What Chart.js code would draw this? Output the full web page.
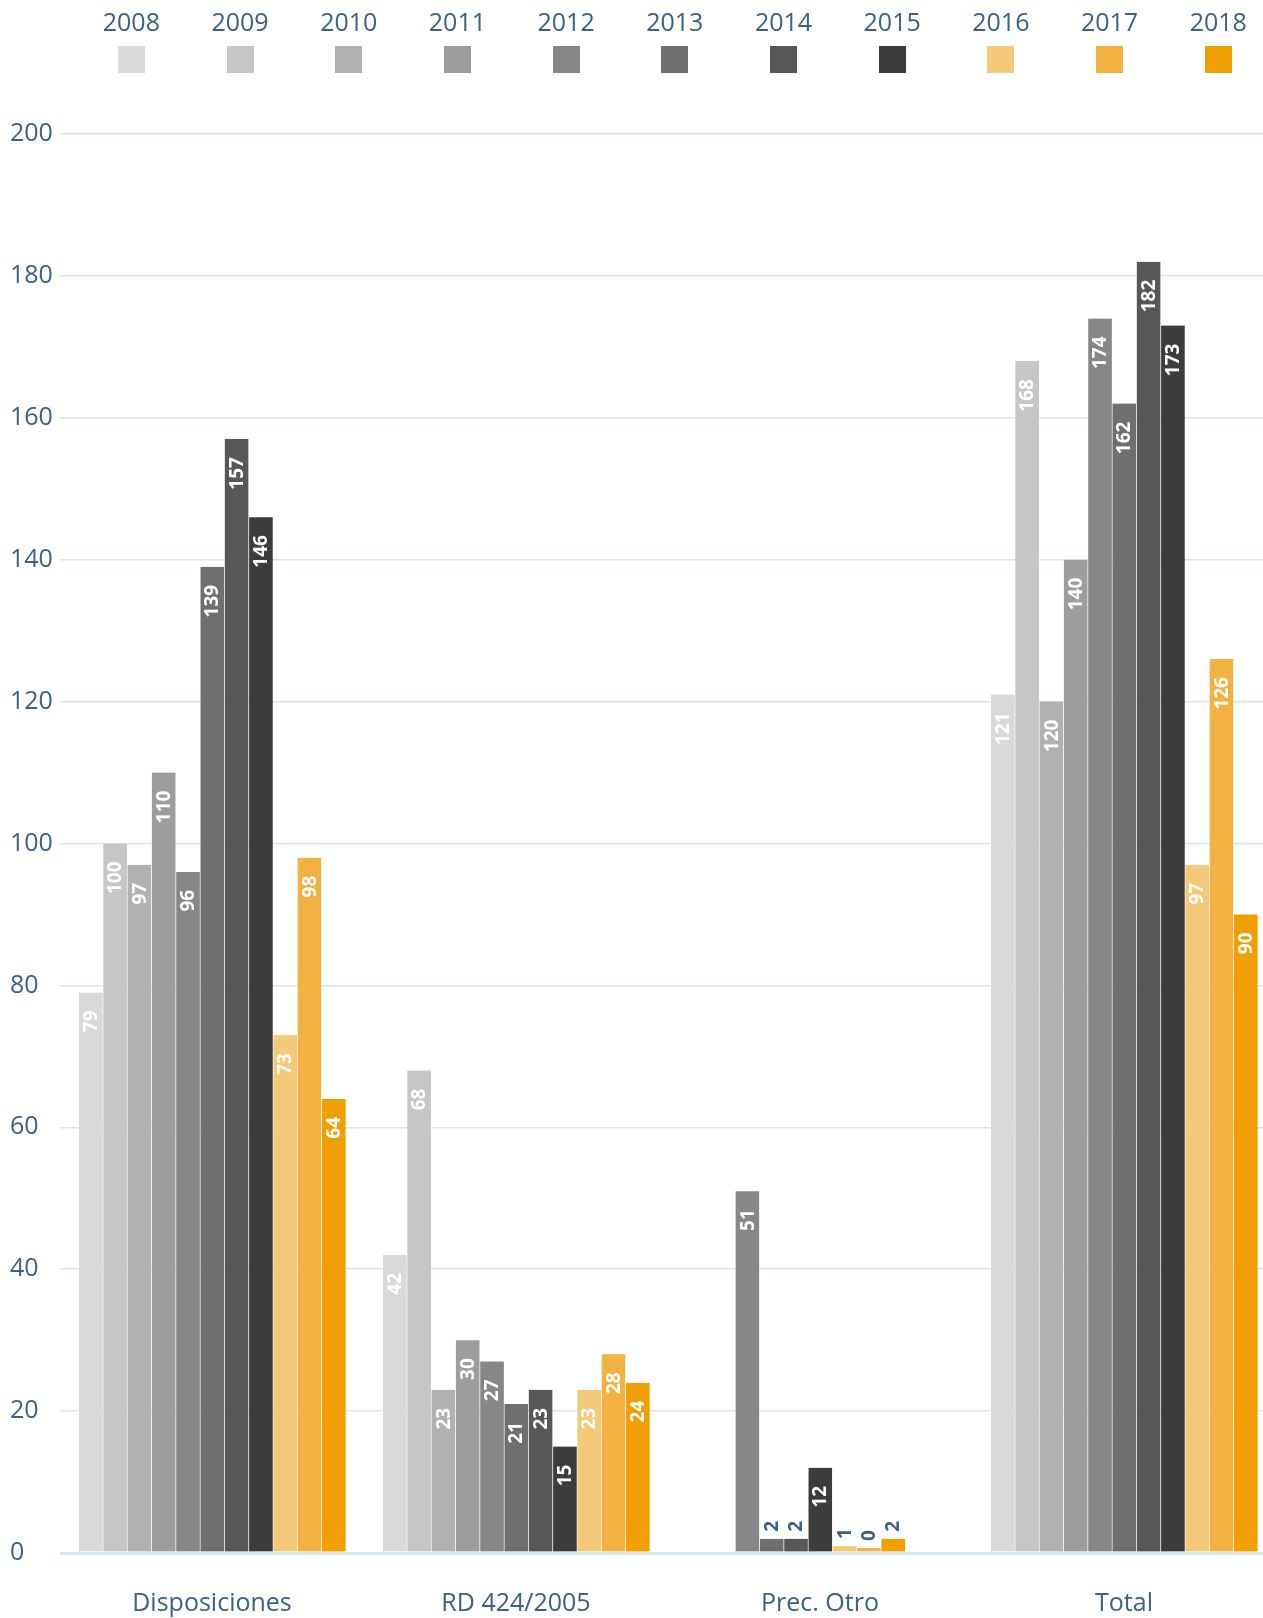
<!DOCTYPE html>
<html lang="es">
<head>
<meta charset="utf-8">
<title>Disposiciones por año</title>
<script src="https://cdn.jsdelivr.net/npm/chart.js@4/dist/chart.umd.min.js"></script>
<style>
  html, body { margin: 0; padding: 0; background: #fff; overflow: hidden; }
  #wrap { position: relative; width: 1263px; height: 1618px; overflow: hidden; }
  #myChart { position: absolute; left: 0; top: 0; }
  #legend { position: absolute; top: 0; left: 77px; display: flex; }
  .item { width: 108.7px; text-align: center; font: 25px 'Open Sans', sans-serif; color: #3b6183; }
  .item span { display: block; line-height: 28px; margin-top: 7px; }
  .item i { display: block; width: 27px; height: 27px; margin: 11px auto 0; }
</style>
</head>
<body>
<div id="wrap">
  <!-- the last group runs up to the right edge, so the canvas is a bit wider than the page -->
  <canvas id="myChart" width="1276" height="1618"></canvas>
  <div id="legend"></div>
</div>
<script>
// Groups along the x axis and one series per year
const categories = ['Disposiciones', 'RD 424/2005', 'Prec. Otro', 'Total'];
const years = ['2008', '2009', '2010', '2011', '2012', '2013', '2014', '2015', '2016', '2017', '2018'];

// Values per group, one entry per year (null = no bar)
const disposiciones = [79, 100, 97, 110, 96, 139, 157, 146, 73, 98, 64];
const rd424 = [42, 68, 23, 30, 27, 21, 23, 15, 23, 28, 24];
const precOtro = [null, null, null, null, 51, 2, 2, 12, 1, 0, 2];
const total = [121, 168, 120, 140, 174, 162, 182, 173, 97, 126, 90];

// y axis ticks
const yMax = 200;
const yStep = 20;

const yearColors = ['#d9d9d9', '#c6c6c6', '#b1b1b1', '#9d9d9c', '#878787', '#6f6f6e',
                    '#575756', '#3c3c3b', '#f4c978', '#f3b142', '#efa000'];
const textColor = '#3b6183';
const gridColor = '#d4e6ef';
const font = "'Open Sans', sans-serif";

// Legend: year on top, colour square below
const legend = document.getElementById('legend');
years.forEach((year, i) => {
  const item = document.createElement('div');
  item.className = 'item';
  item.innerHTML = `<span>${year}</span><i style="background:${yearColors[i]}"></i>`;
  legend.appendChild(item);
});

// Rotated value labels: inside the top of tall bars, above short ones
const barValueLabels = {
  id: 'barValueLabels',
  afterDatasetsDraw(chart) {
    const ctx = chart.ctx;
    ctx.save();
    ctx.font = `bold 19px ${font}`;
    ctx.textBaseline = 'middle';
    chart.data.datasets.forEach((ds, i) => {
      chart.getDatasetMeta(i).data.forEach((bar, j) => {
        const v = ds.data[j];
        if (v === null || v === undefined) return;
        const h = bar.base - bar.y;
        ctx.save();
        ctx.translate(bar.x, bar.y);
        ctx.rotate(-Math.PI / 2);
        if (h > 50) {
          ctx.fillStyle = '#fff';
          ctx.textAlign = 'right';
          ctx.fillText(v, -18, 1);
        } else {
          ctx.fillStyle = textColor;
          ctx.textAlign = 'left';
          ctx.fillText(v, 7, 1);
        }
        ctx.restore();
      });
    });
    ctx.restore();
  }
};

const ctx = document.getElementById('myChart');
const myChart = new Chart(ctx, {
  type: 'bar',
  data: {
    labels: categories,
    datasets: years.map((year, i) => ({
      label: year,
      data: [disposiciones[i], rd424[i], precOtro[i], total[i]],
      backgroundColor: yearColors[i],
      borderColor: 'rgba(255,255,255,0.45)',
      borderWidth: { left: 1, right: 0, top: 0, bottom: 0 },
      borderSkipped: false,
    }))
  },
  options: {
    responsive: false,
    animation: false,
    skipNull: true,
    barThickness: 24.3,
    minBarLength: 5,
    layout: {
      padding: { left: 10, right: 0, top: 134, bottom: 0 }
    },
    scales: {
      x: {
        grid: { display: false, drawTicks: false },
        border: { display: false },
        ticks: {
          color: textColor,
          font: { family: font, size: 25 },
          padding: 36,
        },
        afterFit: (scale) => { scale.height = 65; }
      },
      y: {
        min: 0,
        max: yMax,
        border: { display: false },
        grid: {
          color: gridColor,
          drawTicks: false,
          lineWidth: (c) => c.tick && c.tick.value === 0 ? 3 : 1.5,
        },
        ticks: {
          stepSize: yStep,
          color: textColor,
          crossAlign: 'far',
          padding: 0,
          font: { family: font, size: 25 },
        },
        afterFit: (scale) => { scale.width = 50; }
      }
    },
    plugins: {
      legend: { display: false },
      tooltip: { enabled: false },
    }
  },
  plugins: [barValueLabels]
});
</script>
</body>
</html>
